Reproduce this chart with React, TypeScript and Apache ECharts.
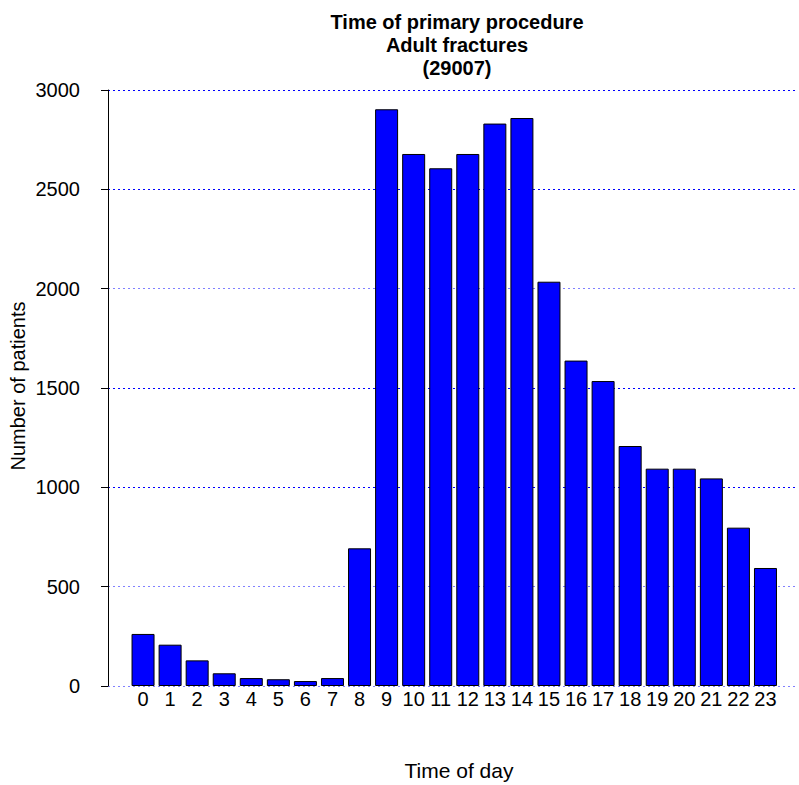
import React, { useEffect, useRef } from "react";
import * as echarts from "echarts";

const hours: string[] = ["0","1","2","3","4","5","6","7","8","9","10","11","12","13","14","15","16","17","18","19","20","21","22","23"];
const patients: number[] = [262, 208, 129, 64, 40, 34, 25, 40, 693, 2903, 2678, 2606, 2678, 2831, 2859, 2035, 1638, 1535, 1208, 1094, 1094, 1045, 797, 594];
const titleLines: string[] = ["Time of primary procedure", "Adult fractures", "(29007)"];
const yTicks: number[] = [0, 500, 1000, 1500, 2000, 2500, 3000];

const FONT = "'Liberation Sans', Arial, Helvetica, sans-serif";

export default function App() {
  const ref = useRef<HTMLDivElement>(null);
  useEffect(() => {
    if (!ref.current) return;
    const chart = echarts.init(ref.current, null, { renderer: "svg" });
    const yMax = yTicks[yTicks.length - 1];
    const interval = yTicks[1] - yTicks[0];
    chart.setOption({
      animation: false,
      backgroundColor: "#ffffff",
      textStyle: { fontFamily: FONT },
      title: {
        text: titleLines.join("\n"),
        left: 452,
        top: 5,
        textAlign: "center",
        textStyle: { fontFamily: FONT, fontSize: 20, fontWeight: "bold", color: "#000", lineHeight: 23 },
      },
      grid: [
        { left: 108, right: 4, top: 90, bottom: 99, containLabel: false },
        { left: 129.5, right: 20, top: 90, bottom: 99, containLabel: false },
      ],
      xAxis: [
        { type: "value", gridIndex: 0, min: 0, max: 1, show: false },
        {
          type: "category",
          gridIndex: 1,
          data: hours,
          axisLine: { show: false },
          axisTick: { show: false },
          axisLabel: { color: "#000", fontSize: 20, fontFamily: FONT, margin: 3, interval: 0 },
        },
      ],
      yAxis: [
        {
          type: "value",
          gridIndex: 0,
          min: 0,
          max: yMax,
          interval: interval,
          axisLine: { show: true, lineStyle: { color: "#000", width: 1 } },
          axisTick: { show: true, length: 7, lineStyle: { color: "#000" } },
          axisLabel: { color: "#000", fontSize: 20, fontFamily: FONT, margin: 28, formatter: (v: number) => String(v) },
          splitLine: {
            show: true,
            lineStyle: {
              type: [2, 3],
              width: 1,
              color: ["#8080ff", "#8080ff", "#0000ff", "#0000ff", "#8080ff", "#0000ff", "#0000ff"],
            },
          },
        },
        { type: "value", gridIndex: 1, min: 0, max: yMax, interval: interval, show: false, splitLine: { show: false } },
      ],
      graphic: [
        {
          type: "text",
          rotation: Math.PI / 2,
          x: 18,
          y: 386,
          style: { text: "Number of patients", fill: "#000", font: `20px ${FONT}`, textAlign: "center", textVerticalAlign: "middle" },
        },
        {
          type: "text",
          x: 459,
          y: 770,
          style: { text: "Time of day", fill: "#000", font: `21px ${FONT}`, textAlign: "center", textVerticalAlign: "middle" },
        },
      ],
      series: [
        {
          type: "bar",
          xAxisIndex: 1,
          yAxisIndex: 1,
          data: patients,
          barWidth: 23,
          itemStyle: { color: "#0000ff", borderColor: "#000", borderWidth: 1 },
        },
      ],
    });
    return () => chart.dispose();
  }, []);
  return <div ref={ref} style={{ position: "fixed", left: 0, top: 0, width: 799, height: 785 }} />;
}
